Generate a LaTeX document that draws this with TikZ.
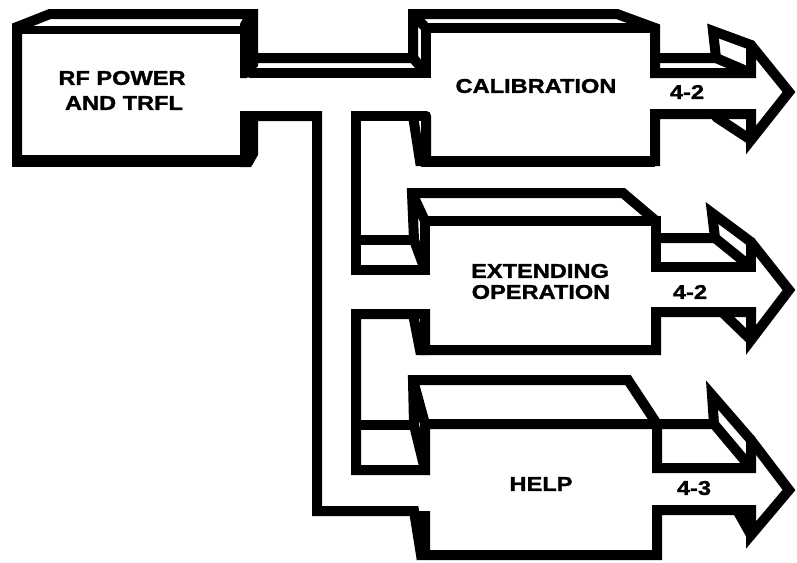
\documentclass[tikz,border=0pt]{standalone}
\usepackage{fontspec}
\setmainfont{Liberation Sans}
\newfontfamily\heavy{Liberation Sans Bold}[FakeBold=1.3]
\newcommand{\wtxt}[1]{\scalebox{1.18}[1]{#1}}
\begin{document}
\begin{tikzpicture}[x=1pt,y=-1pt,
  ln/.style={line width=10pt,line join=miter,miter limit=6,line cap=round},
  lnt/.style={line width=8pt,line join=miter,line cap=round},
  lbl/.style={font=\fontsize{20}{24}\selectfont\heavy,inner sep=0pt}]
\useasboundingbox (0,0) rectangle (797,562);
% ---------- RF POWER box ----------
\draw[ln] (252,14)--(50,14)--(17,27)--(17,161)--(249,161);
\fill (12,155) rectangle (250,167);
\draw[lnt] (17,30)--(244,30);
\fill (240,24)--(248,9)--(258,9)--(258,66)--(247,78)--(240,78)--cycle;
\fill (240,111)--(258,111)--(258,155)--(251,167)--(240,167)--cycle;
% ---------- pipe to CALIBRATION and CALIBRATION box ----------
\draw[ln] (252,58)--(413,58)--(413,14)--(617,14)--(655,28)--(655,73)--(751,73)--(751,45);
\draw[ln] (250,73)--(426,73)--(426,28)--(655,28);
\draw[ln] (413,14)--(426,28);
\draw[ln] (413,58)--(426,73);
\draw[ln] (655,58)--(716,58)--(713,31)--(751,45)--(789,92)--(751,140)--(751,114)--(655,114)--(655,161)--(426,161)--(426,116);
\draw[ln] (716,58)--(751,73);
\draw[ln] (751,140)--(716,117);
\draw[ln] (413,116)--(420,161)--(426,161);
\fill (421,155.5) rectangle (655,166.5);
% ---------- channel walls, EXTENDING and HELP ----------
\draw[ln] (248,116)--(317,116)--(317,511)--(414,511)--(421,555)--(657,555)--(657,510)--(751,510)--(751,535)--(789,490)--(751,440)--(712,395)--(714,424)--(657,424)--(425,424)--(425,470)--(356,470)--(356,314)--(425,314)--(425,350)--(656,350)--(656,312)--(751,312)--(751,340)--(789,290)--(751,242)--(712,213)--(715,238)--(656,238);
\draw[ln] (426,116)--(356,116)--(356,270)--(425,270)--(425,221)--(656,221)--(656,267)--(751,267)--(751,242);
\draw[ln] (414,240)--(412,193)--(623,193)--(656,221);
\draw[ln] (356,240)--(414,240);
\draw[ln] (412,193)--(425,221);
\draw[ln] (414,240)--(425,270);
\draw[ln] (715,238)--(751,267);
\draw[ln] (751,340)--(722,312);
\draw[ln] (413,314)--(420,350)--(425,350);
\draw[ln] (414,425)--(413,380)--(628,380)--(657,424)--(657,468)--(751,468)--(751,440);
\draw[ln] (356,425)--(414,425);
\draw[ln] (413,380)--(425,424);
\draw[ln] (414,425)--(425,470);
\draw[ln] (714,424)--(751,468);
\draw[ln] (751,535)--(737,510);
\fill (414,511)--(430,511)--(430,555)--(421,555)--cycle;
% ---------- texts ----------
\node[lbl] (rf1) at (122,78) {\wtxt{RF POWER}};
\node[lbl] (rf2) at (124,103) {\wtxt{AND TRFL}};
\node[lbl] (cal) at (536,86) {\wtxt{CALIBRATION}};
\node[lbl] (ext1) at (540,271) {\wtxt{EXTENDING}};
\node[lbl] (ext2) at (541,292) {\wtxt{OPERATION}};
\node[lbl] (help) at (541,484) {\wtxt{HELP}};
\node[lbl] (n1) at (687,92) {\wtxt{4-2}};
\node[lbl] (n2) at (690,292) {\wtxt{4-2}};
\node[lbl] (n3) at (694,488) {\wtxt{4-3}};
\end{tikzpicture}
\end{document}
